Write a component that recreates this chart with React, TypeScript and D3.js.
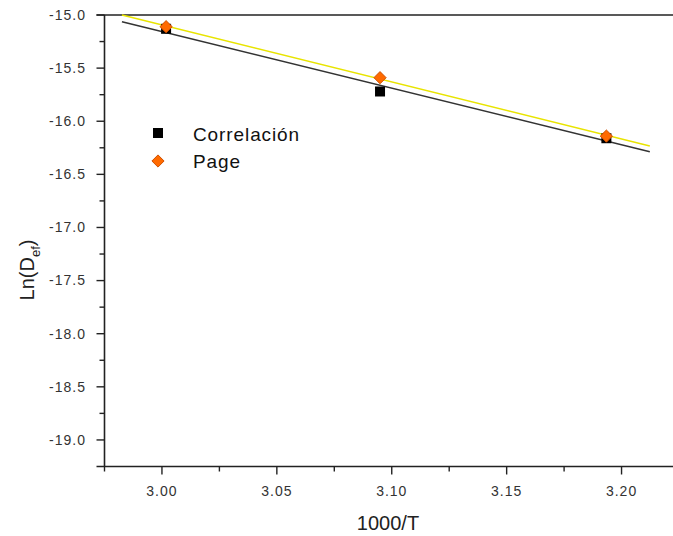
import React, { useRef, useEffect } from "react";
import * as d3 from "d3";

// data
const tempX = [3.0018, 3.0949, 3.1934];
const correlacion = [-15.13, -15.72, -16.16];
const page = [-15.11, -15.59, -16.14];
const fitX = [2.9826, 3.2123];
const fitCorrelacion = [-15.063, -16.287];
const fitPage = [-15.0, -16.233];
const xTicks = [3.0, 3.05, 3.1, 3.15, 3.2];
const yTicks = [-15.0, -15.5, -16.0, -16.5, -17.0, -17.5, -18.0, -18.5, -19.0];

const App = () => {
  const svgRef = useRef<SVGSVGElement>(null);

  useEffect(() => {
    const svg = d3.select(svgRef.current);
    svg.selectAll("*").remove();

    const left = 104.5,
      right = 679,
      top = 15,
      bottom = 466.5;

    var x = d3.scaleLinear().domain([2.975, 3.225]).range([left, right]);
    var y = d3.scaleLinear().domain([-19.25, -15.0]).range([bottom, top]);

    const g = svg.append("g");
    const font = "'Liberation Sans', Arial, sans-serif";

    // axes lines
    g.append("line")
      .attr("x1", left).attr("x2", left).attr("y1", top).attr("y2", bottom)
      .attr("stroke", "#222").attr("stroke-width", 1.6);
    g.append("line")
      .attr("x1", left - 8).attr("x2", 673).attr("y1", bottom).attr("y2", bottom)
      .attr("stroke", "#222").attr("stroke-width", 1.6);
    g.append("line")
      .attr("x1", left - 8).attr("x2", 673).attr("y1", top).attr("y2", top)
      .attr("stroke", "#222").attr("stroke-width", 1.6);

    // y ticks (major + minor)
    yTicks.forEach((t) => {
      g.append("line")
        .attr("x1", left - 8).attr("x2", left).attr("y1", y(t)).attr("y2", y(t))
        .attr("stroke", "#222").attr("stroke-width", 1.4);
      g.append("text")
        .attr("x", 86).attr("y", y(t)).attr("dy", "0.35em")
        .attr("text-anchor", "end")
        .style("font-family", font).style("font-size", "14px")
        .style("letter-spacing", "1px").attr("fill", "#333")
        .text(d3.format(".1f")(t).replace("\u2212", "-"));
      const m = t - 0.25;
      if (m > -19.25) {
        g.append("line")
          .attr("x1", left - 5).attr("x2", left).attr("y1", y(m)).attr("y2", y(m))
          .attr("stroke", "#222").attr("stroke-width", 1.4);
      }
    });

    // x ticks (major + minor)
    xTicks.forEach((t) => {
      g.append("line")
        .attr("x1", x(t)).attr("x2", x(t)).attr("y1", bottom).attr("y2", bottom + 8)
        .attr("stroke", "#222").attr("stroke-width", 1.4);
      g.append("text")
        .attr("x", x(t)).attr("y", 496)
        .attr("text-anchor", "middle")
        .style("font-family", font).style("font-size", "14px")
        .style("letter-spacing", "1px").attr("fill", "#333")
        .text(d3.format(".2f")(t));
      g.append("line")
        .attr("x1", x(t - 0.025)).attr("x2", x(t - 0.025)).attr("y1", bottom).attr("y2", bottom + 5)
        .attr("stroke", "#222").attr("stroke-width", 1.4);
    });

    // fit lines
    const line = d3
      .line<number>()
      .x((d, i) => x(fitX[i]))
      .y((d) => y(d));
    g.append("path")
      .attr("d", line(fitCorrelacion))
      .attr("fill", "none").attr("stroke", "#333").attr("stroke-width", 1.5);
    g.append("path")
      .attr("d", line(fitPage))
      .attr("fill", "none").attr("stroke", "#e8e400").attr("stroke-width", 1.5);

    // points
    g.selectAll(".sq")
      .data(correlacion)
      .enter()
      .append("rect")
      .attr("x", (d, i) => x(tempX[i]) - 5)
      .attr("y", (d) => y(d) - 5)
      .attr("width", 10)
      .attr("height", 10)
      .attr("fill", "#000");

    const diamond = d3.symbol().type(d3.symbolDiamond2).size(95);
    g.selectAll(".dm")
      .data(page)
      .enter()
      .append("path")
      .attr("d", diamond)
      .attr("transform", (d, i) => `translate(${x(tempX[i])},${y(d)})`)
      .attr("fill", "#ff6a00")
      .attr("stroke", "#d05000")
      .attr("stroke-width", 1);

    // legend
    g.append("rect")
      .attr("x", 153).attr("y", 128).attr("width", 10).attr("height", 10)
      .attr("fill", "#000");
    g.append("path")
      .attr("d", diamond)
      .attr("transform", "translate(158,161)")
      .attr("fill", "#ff6a00").attr("stroke", "#d05000");
    g.append("text")
      .attr("x", 193).attr("y", 141)
      .style("font-family", font).style("font-size", "19px")
      .style("letter-spacing", "0.9px").attr("fill", "#111")
      .text("Correlación");
    g.append("text")
      .attr("x", 193).attr("y", 168)
      .style("font-family", font).style("font-size", "19px")
      .style("letter-spacing", "0.9px").attr("fill", "#111")
      .text("Page");

    // axis titles
    g.append("text")
      .attr("x", 388).attr("y", 530)
      .attr("text-anchor", "middle")
      .style("font-family", font).style("font-size", "20px").attr("fill", "#222")
      .text("1000/T");

    const yt = g.append("text")
      .attr("transform", "translate(34,270) rotate(-90)")
      .attr("text-anchor", "middle")
      .style("font-family", font).style("font-size", "20px").attr("fill", "#222");
    yt.append("tspan").text("Ln(D");
    yt.append("tspan").attr("dy", 6).style("font-size", "13px").text("ef");
    yt.append("tspan").attr("dy", -6).text(")");
  }, []);

  return (
    <svg
      ref={svgRef}
      width={673}
      height={536}
      style={{ position: "absolute", left: 0, top: 0, background: "#fff" }}
    ></svg>
  );
};

export default App;
